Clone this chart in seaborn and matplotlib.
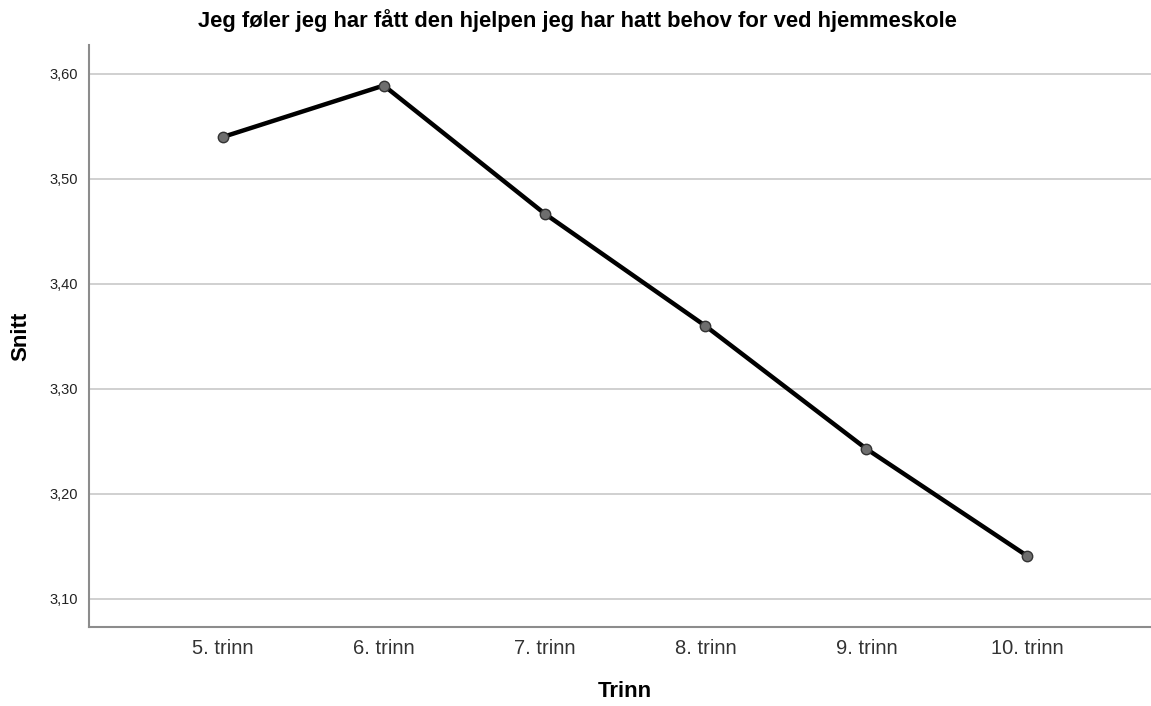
import pandas as pd
import seaborn as sns
import matplotlib.pyplot as plt
from matplotlib.ticker import FuncFormatter

# mean score per school year
trinn = ['5. trinn', '6. trinn', '7. trinn', '8. trinn', '9. trinn', '10. trinn']
snitt = [3.540, 3.589, 3.467, 3.360, 3.243, 3.141]
yticks = [3.10, 3.20, 3.30, 3.40, 3.50, 3.60]

df = pd.DataFrame({'trinn': trinn, 'snitt': snitt})
df['pos'] = range(len(trinn))

sns.set_style('white')
plt.rcParams['font.family'] = ['Liberation Sans', 'DejaVu Sans']

fig = plt.figure(figsize=(11.51, 7.06), dpi=100)
ax = fig.add_axes([0.0773, 0.1119, 0.9227, 0.8244])

sns.lineplot(data=df, x='pos', y='snitt', ax=ax, color='black', linewidth=3.2,
             marker='o', markersize=7.5, markerfacecolor='#6e6e6e',
             markeredgecolor='#333333', markeredgewidth=1.0)

ax.set_xlim(-0.833, 5.77)
ax.set_ylim(3.0733, 3.6276)
ax.set_xticks(df['pos'])
ax.set_xticklabels(trinn, fontsize=14.5, color='#333333')
ax.set_yticks(yticks)
ax.yaxis.set_major_formatter(FuncFormatter(lambda v, p: f'{v:.2f}'.replace('.', ',')))
ax.tick_params(axis='y', labelsize=10.5, colors='#222222', length=0, pad=8)
ax.tick_params(axis='x', length=0, pad=9)
ax.yaxis.grid(True, color='#c8c8c8', linewidth=1.2)
ax.set_axisbelow(True)

for s in ['top', 'right']:
    ax.spines[s].set_visible(False)
for s in ['left', 'bottom']:
    ax.spines[s].set_color('#8c8c8c')
    ax.spines[s].set_linewidth(1.5)

ax.set_xlabel('Trinn', fontsize=16, fontweight='bold', color='black')
ax.set_ylabel('Snitt', fontsize=16, fontweight='bold', color='black')
ax.xaxis.set_label_coords(0.505, -0.093)
ax.yaxis.set_label_coords(-0.054, 0.5)
fig.suptitle('Jeg føler jeg har fått den hjelpen jeg har hatt behov for ved hjemmeskole',
             fontsize=15.8, fontweight='bold', color='black',
             x=0.502, y=1 - 20.5 / 706, va='center')

fig.savefig('out.png', dpi=100)
